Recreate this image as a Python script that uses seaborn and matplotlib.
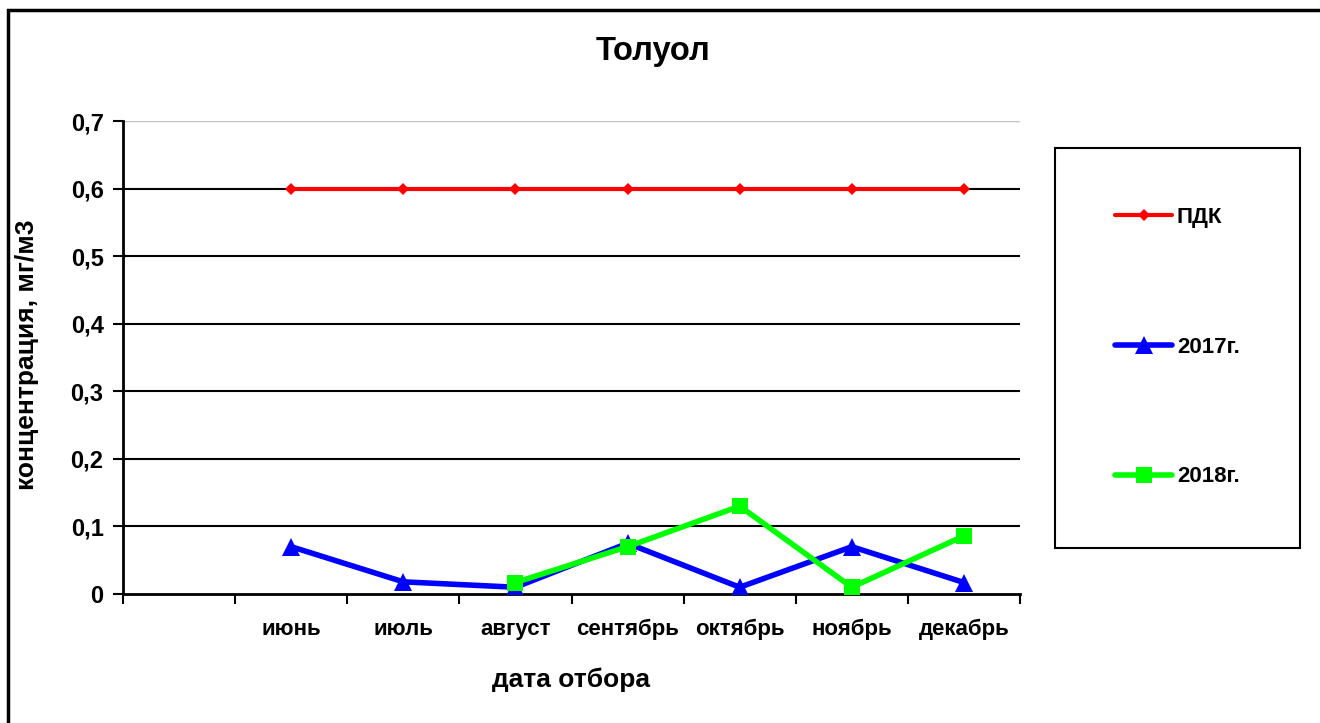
import numpy as np
import matplotlib
matplotlib.use('Agg')
import matplotlib.pyplot as plt
from matplotlib.patches import Rectangle
import seaborn as sns

months = ['', 'июнь', 'июль', 'август', 'сентябрь', 'октябрь', 'ноябрь', 'декабрь']
pdk = [np.nan, 0.6, 0.6, 0.6, 0.6, 0.6, 0.6, 0.6]
y2017 = [np.nan, 0.07, 0.018, 0.01, 0.075, 0.01, 0.07, 0.017]
y2018 = [np.nan, np.nan, np.nan, 0.017, 0.07, 0.13, 0.01, 0.086]
yticks = [0, 0.1, 0.2, 0.3, 0.4, 0.5, 0.6, 0.7]
ytick_labels = ['0', '0,1', '0,2', '0,3', '0,4', '0,5', '0,6', '0,7']

sns.set_style('white')
plt.rcParams['font.family'] = ['Liberation Sans', 'DejaVu Sans']
plt.rcParams['font.weight'] = 'bold'
plt.rcParams['text.color'] = 'black'
plt.rcParams['axes.labelcolor'] = 'black'
plt.rcParams['xtick.color'] = 'black'
plt.rcParams['ytick.color'] = 'black'

fig = plt.figure(figsize=(13.2, 7.23), dpi=100)
ax = fig.add_axes([123 / 1320, 1 - 594 / 723, 897 / 1320, 473 / 723])

x = np.arange(len(months))

# gridlines
for v in yticks[1:-1]:
    ax.axhline(v, color='black', lw=1.5, zorder=1)
ax.axhline(0.7, color='#c0c0c0', lw=1.0, zorder=1)

sns.lineplot(x=x, y=pdk, ax=ax, color='#ff0000', lw=3, marker='D', markersize=6,
             markeredgewidth=0, label='ПДК', zorder=3)
sns.lineplot(x=x, y=y2017, ax=ax, color='#0000ff', lw=4, marker='^', markersize=13,
             markeredgewidth=0, label='2017г.', zorder=4)
sns.lineplot(x=x, y=y2018, ax=ax, color='#00ff00', lw=4, marker='s', markersize=12,
             markeredgewidth=0, label='2018г.', zorder=5)

ax.set_xlim(-0.5, len(months) - 0.5)
ax.set_ylim(0, 0.7)
ax.set_yticks(yticks)
ax.set_yticklabels(ytick_labels, fontsize=17, fontweight='bold')
ax.set_xticks(np.arange(len(months) + 1) - 0.5)
ax.set_xticklabels([])
ax.set_xticks(x, minor=True)
ax.set_xticklabels(months, minor=True, fontsize=16, fontweight='bold')
ax.tick_params(axis='x', which='minor', length=0, pad=18)
ax.tick_params(axis='x', which='major', direction='out', length=7, width=1.5, bottom=True)
ax.tick_params(axis='y', direction='out', length=7, width=1.5, left=True, pad=7)

for s in ['top', 'right']:
    ax.spines[s].set_visible(False)
for s in ['left', 'bottom']:
    ax.spines[s].set_color('black')
    ax.spines[s].set_linewidth(2)

ax.set_xlabel('дата отбора', fontsize=19, fontweight='bold')
ax.xaxis.set_label_coords(0.5, -0.156)
ax.set_ylabel('концентрация, мг/м3', fontsize=19, fontweight='bold')
ax.yaxis.set_label_coords(-0.094, 0.505)

fig.text(0.495, 0.929, 'Толуол', fontsize=23.5, fontweight='bold', ha='center', va='center')

leg = ax.legend(loc='center', bbox_to_anchor=(1177.5 / 1320, 1 - 347 / 723),
                bbox_transform=fig.transFigure, frameon=False, fontsize=16,
                labelspacing=4.9, handlelength=2.57, handletextpad=0.2)
for t in leg.get_texts():
    t.set_fontweight('bold')

fig.patches.append(Rectangle((1055 / 1320, 1 - 548 / 723), 245 / 1320, 400 / 723,
                             transform=fig.transFigure, fill=False, edgecolor='black', lw=1.5))
fig.patches.append(Rectangle((8 / 1320, -0.05), 1.1, 1 - 10 / 723 + 0.05,
                             transform=fig.transFigure, fill=False, edgecolor='black', lw=2.5))

fig.savefig('out.png', dpi=100)
